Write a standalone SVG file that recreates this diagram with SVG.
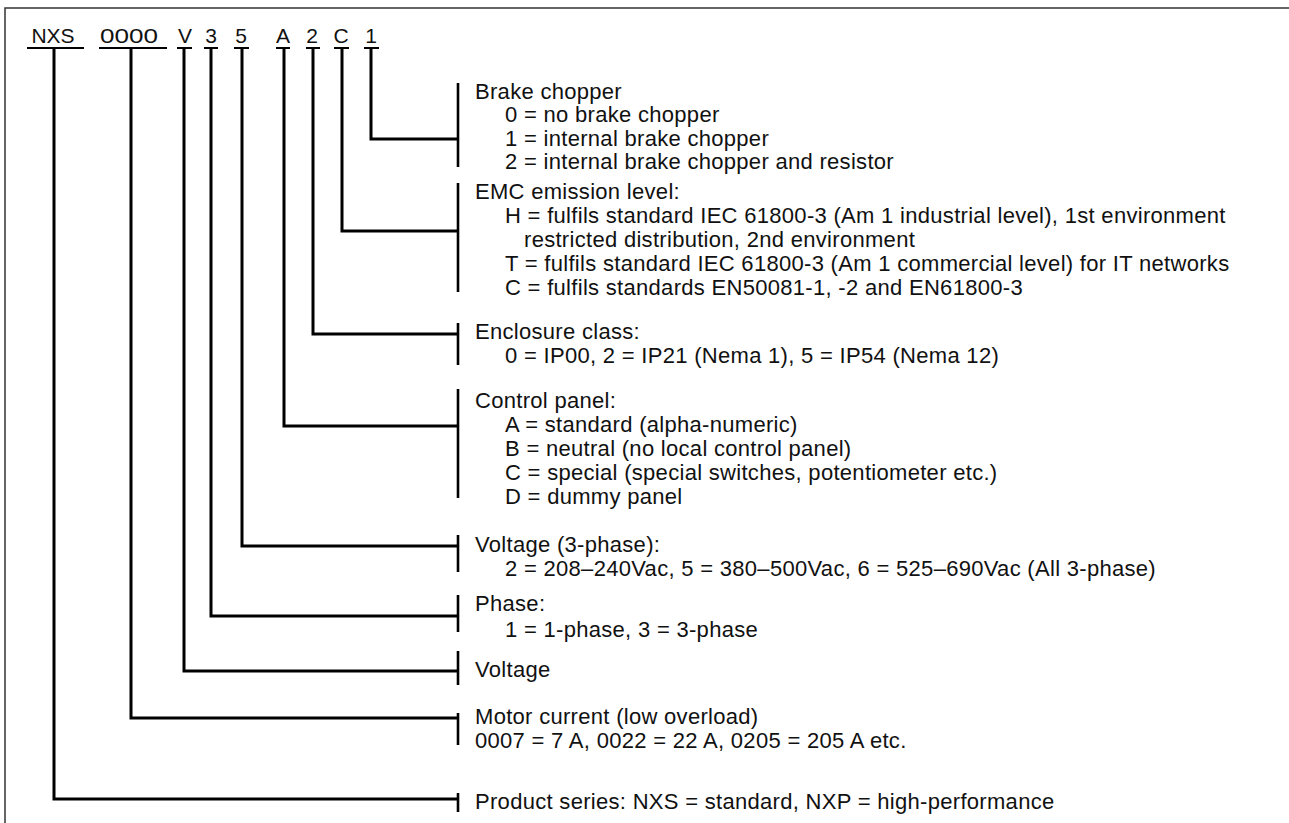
<svg xmlns="http://www.w3.org/2000/svg" width="1289" height="823" viewBox="0 0 1289 823">
<style>
text{font-family:"Liberation Sans",Arial,sans-serif;font-size:22px;letter-spacing:0.3px;fill:#111}
.hd{font-size:21px;text-anchor:middle;letter-spacing:0}
.c{fill:none;stroke:#000;stroke-width:3}
.b{stroke:#000;stroke-width:2.6}
.u{stroke:#000;stroke-width:2}
</style>
<rect width="1289" height="823" fill="#fff"/>
<path d="M5 823V8H1289" fill="none" stroke="#333" stroke-width="1.5"/>
<g id="code">
<text class="hd" x="53" y="43">NXS</text>
<text class="hd" x="129" y="43" textLength="58" lengthAdjust="spacingAndGlyphs">0000</text>
<text class="hd" x="185" y="43">V</text>
<text class="hd" x="211" y="43">3</text>
<text class="hd" x="241" y="43">5</text>
<text class="hd" x="283" y="43">A</text>
<text class="hd" x="312" y="43">2</text>
<text class="hd" x="341" y="43">C</text>
<text class="hd" x="371" y="43">1</text>
<path class="u" d="M27 48H84M99 48H167M177 48H192M204 48H218M234 48H249M276 48H290M306 48H320M334 48H349M364 48H379"/>
</g>
<g id="connectors">
<path class="c" d="M371 49V139H458"/>
<path class="c" d="M342 49V231H458"/>
<path class="c" d="M313 49V334H458"/>
<path class="c" d="M284 49V426H458"/>
<path class="c" d="M242 49V546H458"/>
<path class="c" d="M211 49V616H458"/>
<path class="c" d="M184 49V671H458"/>
<path class="c" d="M131 49V718H458"/>
<path class="c" d="M54 49V799H458"/>
</g>
<g id="brake">
<line class="b" x1="458" y1="83" x2="458" y2="167"/>
<text x="475" y="99">Brake chopper</text>
<text x="505" y="122">0 = no brake chopper</text>
<text x="505" y="146">1 = internal brake chopper</text>
<text x="505" y="169">2 = internal brake chopper and resistor</text>
</g>
<g id="emc">
<line class="b" x1="458" y1="183" x2="458" y2="292"/>
<text x="475" y="199">EMC emission level:</text>
<text x="505" y="223">H = fulfils standard IEC 61800-3 (Am 1 industrial level), 1st environment</text>
<text x="524" y="247">restricted distribution, 2nd environment</text>
<text x="505" y="271">T  = fulfils standard IEC 61800-3 (Am 1 commercial level) for IT networks</text>
<text x="505" y="295">C = fulfils standards EN50081-1, -2 and EN61800-3</text>
</g>
<g id="enclosure">
<line class="b" x1="458" y1="323" x2="458" y2="365"/>
<text x="475" y="339">Enclosure class:</text>
<text x="505" y="363">0 = IP00, 2 = IP21 (Nema 1), 5 = IP54 (Nema 12)</text>
</g>
<g id="control">
<line class="b" x1="458" y1="389" x2="458" y2="498"/>
<text x="475" y="408">Control panel:</text>
<text x="505" y="432">A = standard (alpha-numeric)</text>
<text x="505" y="456">B = neutral (no local control panel)</text>
<text x="505" y="480">C = special (special switches, potentiometer etc.)</text>
<text x="505" y="504">D = dummy panel</text>
</g>
<g id="voltage3">
<line class="b" x1="458" y1="535" x2="458" y2="572"/>
<text x="475" y="552">Voltage (3-phase):</text>
<text x="505" y="576">2 = 208–240Vac, 5 = 380–500Vac, 6 = 525–690Vac (All 3-phase)</text>
</g>
<g id="phase">
<line class="b" x1="458" y1="595" x2="458" y2="632"/>
<text x="475" y="611">Phase:</text>
<text x="505" y="637">1 = 1-phase, 3 = 3-phase</text>
</g>
<g id="voltage">
<line class="b" x1="458" y1="651" x2="458" y2="685"/>
<text x="475" y="677">Voltage</text>
</g>
<g id="motor">
<line class="b" x1="458" y1="713" x2="458" y2="745"/>
<text x="475" y="724">Motor current (low overload)</text>
<text x="475" y="748">0007 = 7 A, 0022 = 22 A, 0205 = 205 A etc.</text>
</g>
<g id="series">
<line class="b" x1="458" y1="793" x2="458" y2="812"/>
<text x="475" y="809">Product series: NXS = standard, NXP = high-performance</text>
</g>
</svg>
